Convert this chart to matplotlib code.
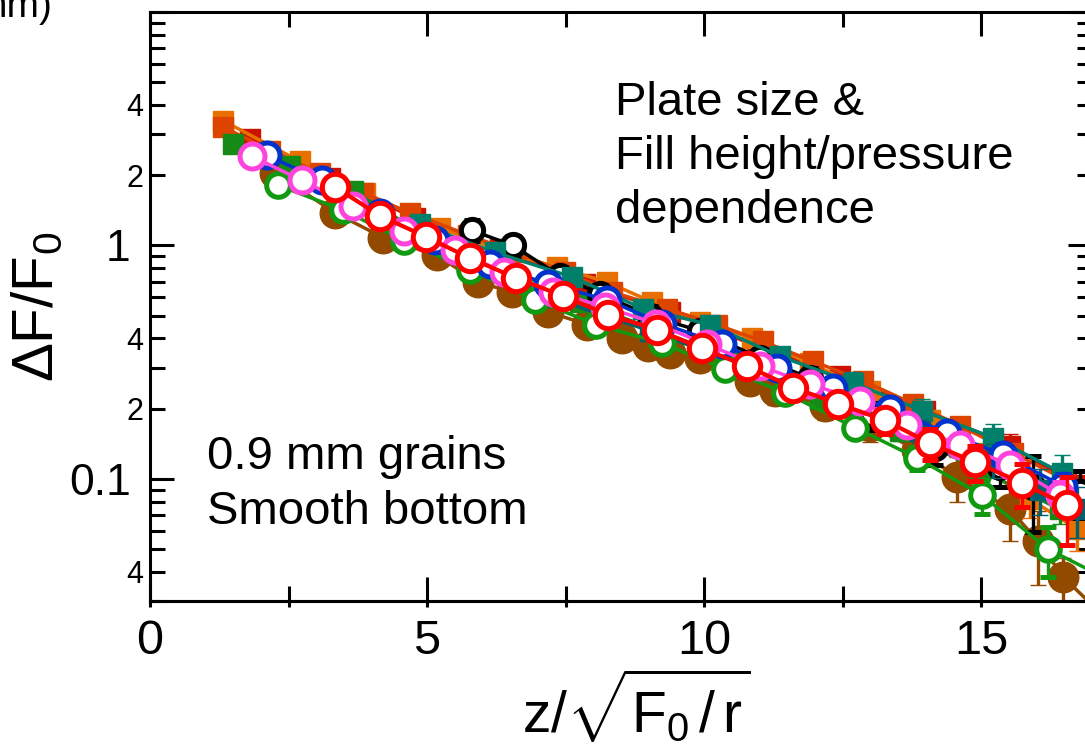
import matplotlib
matplotlib.use('Agg')
import matplotlib.pyplot as plt

plt.rcParams['font.family'] = ['Liberation Sans', 'DejaVu Sans']
plt.rcParams['mathtext.fontset'] = 'custom'
plt.rcParams['mathtext.rm'] = 'Liberation Sans'
plt.rcParams['mathtext.it'] = 'Liberation Sans:italic'

# data (x = z/sqrt(F0/r), y = dF/F0, err = +/- error)
brown_x = [2.26, 3.34, 4.21, 5.18, 5.92, 6.53, 7.18, 7.89, 8.52, 8.99, 9.39, 9.93, 10.83, 11.28,
           12.18, 13.00, 13.84, 14.57, 15.52, 16.03, 16.48, 17.2]
brown_y = [2.04, 1.38, 1.08, 0.907, 0.697, 0.632, 0.520, 0.458, 0.400, 0.370, 0.345, 0.329, 0.263,
           0.238, 0.206, 0.169, 0.133, 0.102, 0.074, 0.054, 0.038, 0.026]
brown_err = [0.2, 0.14, 0.12, 0.1, 0.08, 0.07, 0.06, 0.05, 0.045, 0.04, 0.04, 0.035, 0.03, 0.03,
             0.028, 0.025, 0.022, 0.022, 0.02, 0.019, 0.008, 0.005]

darkred_x = [1.81, 3.25, 4.78, 6.32, 7.85, 9.39, 10.96, 12.45, 13.99, 15.52, 16.70]
darkred_y = [2.87, 1.94, 1.31, 0.962, 0.684, 0.520, 0.370, 0.276, 0.196, 0.139, 0.094]
darkred_err = [0.15, 0.12, 0.08, 0.06, 0.04, 0.03, 0.025, 0.02, 0.018, 0.016, 0.014]

orange_x = [1.32, 2.71, 3.88, 5.23, 6.41, 7.35, 8.25, 9.06, 9.93, 10.87, 11.91, 13.00, 14.08,
            15.07, 15.88, 16.73]
orange_y = [3.42, 2.29, 1.68, 1.19, 0.934, 0.807, 0.697, 0.573, 0.472, 0.400, 0.313, 0.238, 0.178,
            0.127, 0.082, 0.061]
orange_err = [0.15, 0.12, 0.09, 0.07, 0.05, 0.045, 0.04, 0.035, 0.03, 0.025, 0.02, 0.018, 0.016,
              0.015, 0.014, 0.012]

orangered_x = [1.32, 2.17, 3.07, 3.84, 4.69, 5.74, 6.59, 7.49, 8.34, 9.33, 10.23, 11.06, 11.97,
               12.87, 13.77, 14.62, 15.58, 16.52]
orangered_y = [3.22, 2.55, 2.04, 1.68, 1.38, 1.11, 0.934, 0.768, 0.632, 0.536, 0.458, 0.388, 0.319,
               0.263, 0.210, 0.169, 0.129, 0.099]
orangered_err = [0.2, 0.15, 0.12, 0.1, 0.08, 0.06, 0.05, 0.04, 0.035, 0.03, 0.025, 0.022, 0.02,
                 0.018, 0.016, 0.014, 0.012, 0.01]

greenf_x = [1.50, 2.53, 3.66, 4.87, 6.23, 7.76, 9.21, 10.65, 12.09, 13.54, 14.98, 16.43]
greenf_y = [2.73, 2.20, 1.71, 1.14, 0.847, 0.573, 0.428, 0.319, 0.221, 0.161, 0.109, 0.074]
greenf_err = [0.12, 0.1, 0.08, 0.06, 0.05, 0.035, 0.028, 0.022, 0.018, 0.015, 0.012, 0.01]

teal_x = [4.87, 6.23, 7.62, 8.90, 10.11, 11.37, 12.69, 13.94, 15.22, 16.46]
teal_y = [1.23, 0.934, 0.732, 0.536, 0.458, 0.335, 0.258, 0.196, 0.150, 0.106]
teal_err = [0.08, 0.06, 0.05, 0.04, 0.035, 0.03, 0.028, 0.025, 0.022, 0.02]

darkteal_x = [5.42, 7.22, 9.03, 10.83, 12.64, 13.90, 15.22, 16.06, 16.73]
darkteal_y = [0.98, 0.60, 0.43, 0.30, 0.206, 0.161, 0.121, 0.090, 0.074]
darkteal_err = [0.05, 0.04, 0.03, 0.025, 0.02, 0.018, 0.02, 0.02, 0.018]

black_x = [5.81, 6.55, 7.40, 8.12, 9.03, 9.93, 11.01, 11.91, 13.03, 14.17, 15.34, 15.94, 16.79]
black_y = [1.16, 1.00, 0.74, 0.62, 0.50, 0.43, 0.33, 0.27, 0.187, 0.135, 0.112, 0.092, 0.088]
black_err = [0.12, 0.1, 0.07, 0.06, 0.05, 0.04, 0.03, 0.03, 0.025, 0.02, 0.02, 0.033, 0.02]

greeno_x = [2.31, 3.48, 4.58, 5.78, 6.95, 8.05, 9.24, 10.38, 11.46, 12.72, 13.84, 15.02, 16.21, 17.4]
greeno_y = [1.81, 1.42, 1.05, 0.784, 0.585, 0.458, 0.381, 0.296, 0.234, 0.166, 0.123, 0.085, 0.050,
            0.036]
greeno_err = [0.08, 0.06, 0.05, 0.04, 0.03, 0.025, 0.02, 0.018, 0.015, 0.014, 0.014, 0.014, 0.012,
              0.01]

blue_x = [2.11, 3.10, 4.15, 5.14, 6.14, 7.18, 8.25, 9.24, 10.32, 11.32, 12.33, 13.36, 14.39, 15.40,
          16.48]
blue_y = [2.43, 1.90, 1.38, 1.06, 0.831, 0.684, 0.585, 0.463, 0.377, 0.298, 0.245, 0.200, 0.157,
          0.127, 0.093]
blue_err = [0.1, 0.08, 0.06, 0.05, 0.04, 0.03, 0.025, 0.02, 0.018, 0.016, 0.014, 0.013, 0.014,
            0.014, 0.012]

pink_x = [1.84, 2.74, 3.66, 4.58, 5.51, 6.39, 7.27, 8.21, 9.13, 10.05, 11.01, 11.91, 12.82, 13.66,
          14.62, 15.52, 16.43]
pink_y = [2.41, 1.90, 1.48, 1.15, 0.952, 0.768, 0.632, 0.546, 0.463, 0.377, 0.304, 0.255, 0.216,
          0.170, 0.140, 0.115, 0.085]
pink_err = [0.1, 0.08, 0.06, 0.05, 0.04, 0.03, 0.025, 0.02, 0.018, 0.016, 0.014, 0.013, 0.013,
            0.013, 0.012, 0.012, 0.012]

red_x = [3.34, 4.15, 4.98, 5.78, 6.61, 7.45, 8.27, 9.15, 9.96, 10.78, 11.61, 12.42, 13.27, 14.08,
         14.89, 15.74, 16.55]
red_y = [1.78, 1.34, 1.09, 0.881, 0.725, 0.608, 0.505, 0.436, 0.362, 0.304, 0.246, 0.210, 0.178,
         0.142, 0.118, 0.096, 0.077]
red_err = [0.05, 0.04, 0.03, 0.03, 0.025, 0.02, 0.02, 0.02, 0.018, 0.016, 0.015, 0.016, 0.022,
           0.022, 0.02, 0.02, 0.025]

fig = plt.figure(figsize=(10.85, 7.54), dpi=100)
ax = fig.add_axes([150 / 1085, 153 / 754, 942 / 1085, 589 / 754])

# (x, y, err, colour, marker, size, filled, zorder)
series = [
    (brown_x, brown_y, brown_err, '#924a00', 'o', 22, True, 2),
    (darkred_x, darkred_y, darkred_err, '#cc1100', 's', 14, True, 3),
    (orange_x, orange_y, orange_err, '#e87000', 's', 15, True, 3.2),
    (orangered_x, orangered_y, orangered_err, '#dd4400', 's', 15, True, 3.4),
    (greenf_x, greenf_y, greenf_err, '#168a16', 's', 15, True, 3.6),
    (black_x, black_y, black_err, '#000000', 'o', 16, False, 3.7),
    (teal_x, teal_y, teal_err, '#00806a', 's', 15, True, 3.8),
    (darkteal_x, darkteal_y, darkteal_err, '#00606e', 's', 14, True, 4),
    (greeno_x, greeno_y, greeno_err, '#119911', 'o', 17, False, 4.5),
    (blue_x, blue_y, blue_err, '#0033cc', 'o', 18, False, 5),
    (pink_x, pink_y, pink_err, '#ff44dd', 'o', 18, False, 5.5),
    (red_x, red_y, red_err, '#ff0000', 'o', 19, False, 6),
]

for x, y, e, c, m, ms, filled, z in series:
    lw = 3.0 if c == '#ff0000' else 2.5
    ax.errorbar(x, y, yerr=e, color=c, lw=lw, marker=m, ms=ms,
                mfc=c if filled else 'white', mec=c, mew=1 if filled else 3.6,
                capsize=6, elinewidth=2.4, capthick=2.4, zorder=z)

ax.set_xlim(0, 17)
ax.set_yscale('log')
ax.set_ylim(0.03, 10)

ax.set_xticks([0, 5, 10, 15])
ax.set_xticks([2.5, 7.5, 12.5], minor=True)
ax.set_yticks([0.1, 1, 10])
ax.set_yticklabels(['0.1', '1', ''])
yminor = [0.03, 0.04, 0.05, 0.06, 0.07, 0.08, 0.09, 0.2, 0.3, 0.4, 0.5, 0.6, 0.7, 0.8, 0.9,
          2, 3, 4, 5, 6, 7, 8, 9]
ax.set_yticks(yminor, minor=True)
ax.set_yticklabels(['4' if v in (0.04, 0.4, 4) else '2' if v in (0.2, 2) else '' for v in yminor],
                   minor=True)

ax.tick_params(which='both', direction='in', top=True, right=True, width=2.2)
ax.tick_params(which='major', length=17)
ax.tick_params(which='minor', length=10.5)
ax.tick_params(axis='x', which='major', labelsize=35, pad=13)
ax.tick_params(axis='y', which='major', labelsize=32, pad=14)
ax.tick_params(axis='y', which='minor', labelsize=22, pad=5)
for s in ax.spines.values():
    s.set_linewidth(2.2)

# small outward stubs on the bottom ticks
sec = ax.secondary_xaxis('bottom')
sec.set_xticks([0, 5, 10, 15])
sec.set_xticks([2.5, 7.5, 12.5], minor=True)
sec.tick_params(which='both', direction='out', length=4.5, width=2.2, labelbottom=False)
sec.spines['bottom'].set_linewidth(2.2)

ax.set_xlabel(r'$\mathrm{z/\sqrt{F_0\,/\,r}}$', fontsize=41, labelpad=2, x=0.516)
ax.set_ylabel('ΔF/F$_0$', fontsize=42)
ax.yaxis.set_label_coords(-0.09, 0.5)

fig.text(615 / 1085, 1 - 81 / 754, 'Plate size &\nFill height/pressure\ndependence',
         fontsize=34, ha='left', va='top', linespacing=1.3)
fig.text(207 / 1085, 1 - 435 / 754, '0.9 mm grains\nSmooth bottom',
         fontsize=34, ha='left', va='top', linespacing=1.32)
fig.text(52 / 1085, 1 - 17 / 754, 'mm)', fontsize=28, ha='right', va='baseline')

fig.savefig('out.png', dpi=100)
